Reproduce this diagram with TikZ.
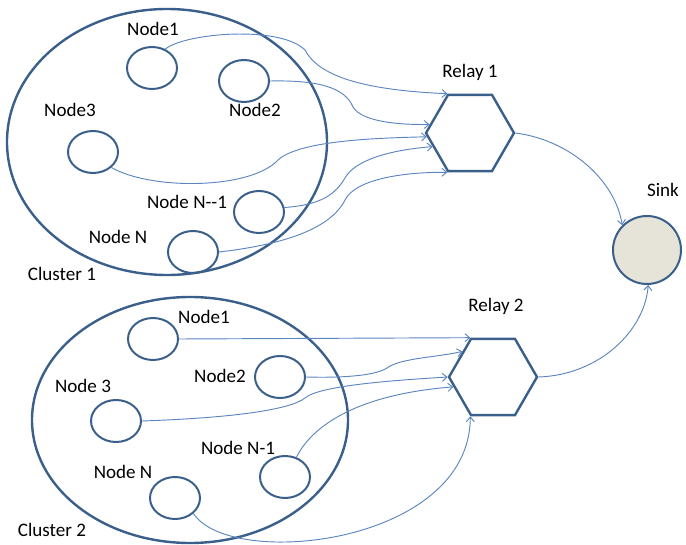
\documentclass[tikz,border=0pt]{standalone}
\usepackage{fontspec}
\setmainfont{Carlito}
\usetikzlibrary{shapes.geometric,arrows.meta}
\definecolor{outline}{HTML}{3A5F8B}
\definecolor{linkblue}{HTML}{5B86C0}
\definecolor{sinkfill}{HTML}{E6E4D8}

\begin{document}
\begin{tikzpicture}[x=0.75pt,y=-0.75pt,font=\fontsize{14.3}{17}\selectfont,
                    cluster/.style={ellipse,draw=outline,line width=1.8pt,inner sep=0pt},
                    sensor/.style={ellipse,draw=outline,line width=1.5pt,minimum width=37.5pt,minimum height=31.5pt,inner sep=0pt},
                    relay/.style={regular polygon,regular polygon sides=6,draw=outline,line width=1.8pt,minimum size=66pt,inner sep=0pt},
                    link/.style={draw=linkblue,line width=0.7pt,-{Straight Barb[length=3.5pt,width=6pt]}}]
  \useasboundingbox (0,0) rectangle (686,545);

  % clusters
  \node[cluster,minimum width=240pt,minimum height=199.5pt] (c1) at (167,142) {};
  \node[cluster,minimum width=237pt,minimum height=184.5pt] (c2) at (190,420) {};

  % cluster 1
  \node[sensor] (a1) at (152,68) {};
  \node[sensor] (a2) at (244,81) {};
  \node[sensor] (a3) at (93,152) {};
  \node[sensor] (an1) at (259,212) {};
  \node[sensor] (an) at (193,252) {};
  \node (ta1) at (153,29) {Node1};
  \node (ta2) at (255,110) {Node2};
  \node (ta3) at (70,110) {Node3};
  \node (tan1) at (187,202) {Node N-{}-1};
  \node (tan) at (118,237) {Node N};
  \node (tc1) at (62,274) {Cluster 1};

  % cluster 2
  \node[sensor] (b1) at (153,339) {};
  \node[sensor] (b2) at (280,377) {};
  \node[sensor] (b3) at (116,421) {};
  \node[sensor] (bn1) at (285,477) {};
  \node[sensor] (bn) at (175,498) {};
  \node (tb1) at (204,317) {Node1};
  \node (tb2) at (220,376) {Node2};
  \node (tb3) at (83,386) {Node 3};
  \node (tbn1) at (238,448) {Node N-1};
  \node (tbn) at (123,472) {Node N};
  \node (tc2) at (52,530) {Cluster 2};

  % relays and sink
  \node[relay] (r1) at (470,133) {};
  \node[relay] (r2) at (493,377) {};
  \node[circle,draw=outline,fill=sinkfill,line width=1.5pt,minimum size=51pt,inner sep=0pt] (sink) at (647,250) {};
  \node (tr1) at (470,72) {Relay 1};
  \node (tr2) at (496,306) {Relay 2};
  \node (ts) at (663,190) {Sink};

  % links
  \draw[link] (a1.55) .. controls (185,33) and (280,25) .. (305,50) .. controls (318,75) and (360,90) .. (r1.120);
  \draw[link] (a2.east) .. controls (320,80) and (345,88) .. (353,107) .. controls (362,122) and (400,125) .. (r1.168);
  \draw[link] (a3.-40) .. controls (150,190) and (250,190) .. (278,160) .. controls (300,140) and (380,138) .. (r1.185);
  \draw[link] (an1.10) .. controls (320,205) and (335,195) .. (345,178) .. controls (355,160) and (390,150) .. (r1.200);
  \draw[link] (an.east) .. controls (280,245) and (330,230) .. (345,200) .. controls (355,180) and (400,172) .. (r1.240);

  \draw[link] (b1.east) -- (r2.120);
  \draw[link] (b2.east) .. controls (340,378) and (375,376) .. (387,368) .. controls (400,358) and (440,357) .. (r2.140);
  \draw[link] (b3.east) .. controls (230,418) and (290,410) .. (305,398) .. controls (320,385) and (400,380) .. (r2.180);
  \draw[link] (bn1.60) .. controls (310,430) and (350,395) .. (r2.194);
  \draw[link] (bn.-40) .. controls (230,570) and (470,545) .. (r2.240);

  \draw[link] (r1.east) .. controls (570,140) and (615,180) .. (sink.135);
  \draw[link] (r2.east) .. controls (600,375) and (645,330) .. (sink.-88);
\end{tikzpicture}
\end{document}
